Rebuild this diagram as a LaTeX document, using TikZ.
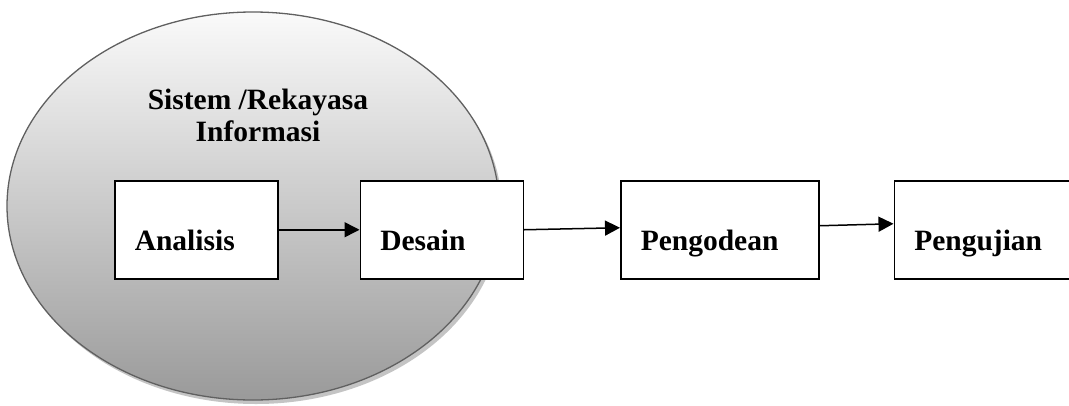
\documentclass[tikz,border=0pt]{standalone}
\usepackage{fontspec}
\setmainfont{Liberation Serif}
\usetikzlibrary{positioning,arrows.meta,shapes.geometric,shadows}
\definecolor{cRim}{HTML}{606060}
\definecolor{cShd}{HTML}{C4C4C4}
\definecolor{cTop}{HTML}{FAFAFA}
\definecolor{cBot}{HTML}{9A9A9A}
\tikzset{
  phase/.style={draw=black,fill=white,line width=1.5pt,text width=#1,align=left,inner xsep=20pt,inner ysep=0pt,text height=70pt,text depth=28pt,font=\fontsize{29.5}{32}\selectfont\bfseries},
  flow/.style={-{Triangle[length=15pt,width=15pt]},line width=1.5pt,draw=black},
}

\begin{document}
\begin{tikzpicture}[x=1pt,y=-1pt]
  \useasboundingbox (0,0) rectangle (1069,405);
  \node[ellipse,draw=cRim,line width=1.3pt,top color=cTop,bottom color=cBot,minimum width=492pt,minimum height=388pt,inner sep=0pt,drop shadow={shadow xshift=3pt,shadow yshift=-4pt,fill=cShd,opacity=1}] (sys) at (253,206) {};
  \node[align=center,inner sep=0pt,font=\fontsize{29.5}{32}\selectfont\bfseries,below=77pt of sys.north,xshift=5pt] (title) {Sistem /Rekayasa\\Informasi};
  \node[phase=123pt,anchor=north west] (ana) at (114,180) {Analisis};
  \node[phase=123pt,right=81pt of ana] (des) {Desain};
  \node[phase=158pt,right=96pt of des] (pen) {Pengodean};
  \node[phase=160pt,right=74pt of pen] (uji) {Pengujian};
  \draw[flow] (ana.east) -- (des.west);
  \draw[flow] (des.east) -- ([yshift=2pt]pen.west);
  \draw[flow] ([yshift=4pt]pen.east) -- ([yshift=6pt]uji.west);
\end{tikzpicture}
\end{document}
